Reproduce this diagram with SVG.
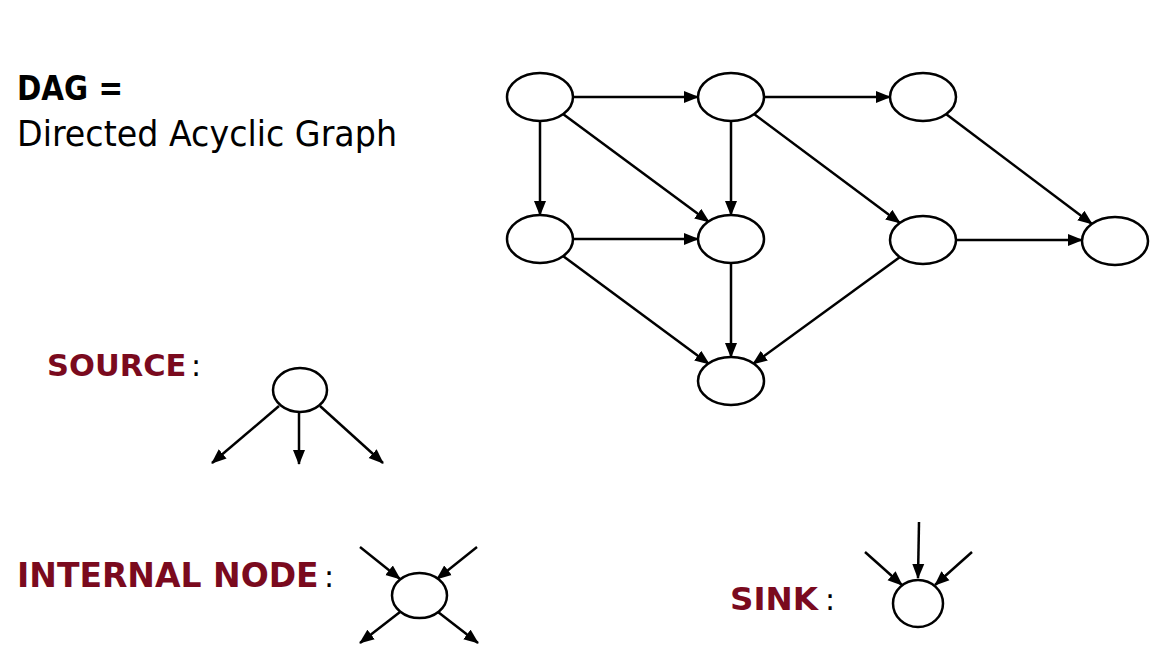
<svg xmlns="http://www.w3.org/2000/svg" width="1152" height="672" viewBox="0 0 1152 672">
<style>
.n{fill:#fff;stroke:#000;stroke-width:2.5}
.e{stroke:#000;stroke-width:2.5;fill:none;marker-end:url(#ah)}
.t{font-family:"DejaVu Sans","Liberation Sans",sans-serif;fill:#000}
.r{fill:#7a0a1e;font-weight:bold}
</style>
<defs>
<marker id="ah" markerUnits="userSpaceOnUse" markerWidth="15" markerHeight="13" viewBox="0 0 15 13" refX="14" refY="6.5" orient="auto">
<path d="M0,0.5 L15,6.5 L0,12.5 Z" fill="#000"/>
</marker>
</defs>
<rect width="1152" height="672" fill="#fff"/>
<g id="title">
<text class="t" x="17" y="100" font-size="33" font-weight="bold" textLength="106" lengthAdjust="spacingAndGlyphs">DAG =</text>
<text class="t" x="17" y="146" font-size="36" textLength="380" lengthAdjust="spacingAndGlyphs">Directed Acyclic Graph</text>
</g>
<g id="connectors">
<line class="e" x1="574" y1="97" x2="698" y2="97"/>
<line class="e" x1="765" y1="97" x2="890" y2="97"/>
<line class="e" x1="540" y1="121" x2="540" y2="215"/>
<line class="e" x1="563" y1="114" x2="709" y2="222"/>
<line class="e" x1="731" y1="121" x2="731" y2="215"/>
<line class="e" x1="754" y1="114" x2="900" y2="223"/>
<line class="e" x1="946" y1="114" x2="1092" y2="224"/>
<line class="e" x1="574" y1="239" x2="698" y2="239"/>
<line class="e" x1="957" y1="240" x2="1082" y2="240"/>
<line class="e" x1="563" y1="256" x2="709" y2="364"/>
<line class="e" x1="731" y1="263" x2="731" y2="357"/>
<line class="e" x1="900" y1="257" x2="753" y2="364"/>
<line class="e" x1="279" y1="406" x2="212" y2="463"/>
<line class="e" x1="299" y1="412" x2="299" y2="464"/>
<line class="e" x1="320" y1="406" x2="383" y2="463"/>
<line class="e" x1="360" y1="547" x2="400" y2="579"/>
<line class="e" x1="477" y1="547" x2="437" y2="579"/>
<line class="e" x1="400" y1="612" x2="360" y2="643"/>
<line class="e" x1="438" y1="612" x2="478" y2="643"/>
<line class="e" x1="919" y1="522" x2="918" y2="578"/>
<line class="e" x1="865" y1="552" x2="902" y2="585"/>
<line class="e" x1="972" y1="552" x2="935" y2="585"/>
</g>
<g id="nodeA"><ellipse class="n" cx="540" cy="97" rx="33" ry="24"/></g>
<g id="nodeB"><ellipse class="n" cx="731" cy="97" rx="33" ry="24"/></g>
<g id="nodeC"><ellipse class="n" cx="923" cy="97" rx="33" ry="24"/></g>
<g id="nodeD"><ellipse class="n" cx="540" cy="239" rx="33" ry="24"/></g>
<g id="nodeE"><ellipse class="n" cx="731" cy="239" rx="33" ry="24"/></g>
<g id="nodeF"><ellipse class="n" cx="923" cy="240" rx="33" ry="24"/></g>
<g id="nodeG"><ellipse class="n" cx="1115" cy="241" rx="33" ry="24"/></g>
<g id="nodeH"><ellipse class="n" cx="731" cy="381" rx="33" ry="24"/></g>
<g id="source">
<text class="t r" x="47" y="376" font-size="30.5">SOURCE</text>
<text class="t" x="191" y="376" font-size="30">:</text>
<ellipse class="n" cx="300" cy="390" rx="27" ry="22"/>
</g>
<g id="internal">
<text class="t r" x="17" y="587" font-size="33">INTERNAL NODE</text>
<text class="t" x="324" y="587" font-size="30">:</text>
<ellipse class="n" cx="419.5" cy="595.5" rx="27.5" ry="22.5"/>
</g>
<g id="sink">
<text class="t r" x="730" y="610" font-size="32.5">SINK</text>
<text class="t" x="825" y="610" font-size="30">:</text>
<ellipse class="n" cx="918" cy="603.5" rx="25" ry="23.5"/>
</g>
</svg>
